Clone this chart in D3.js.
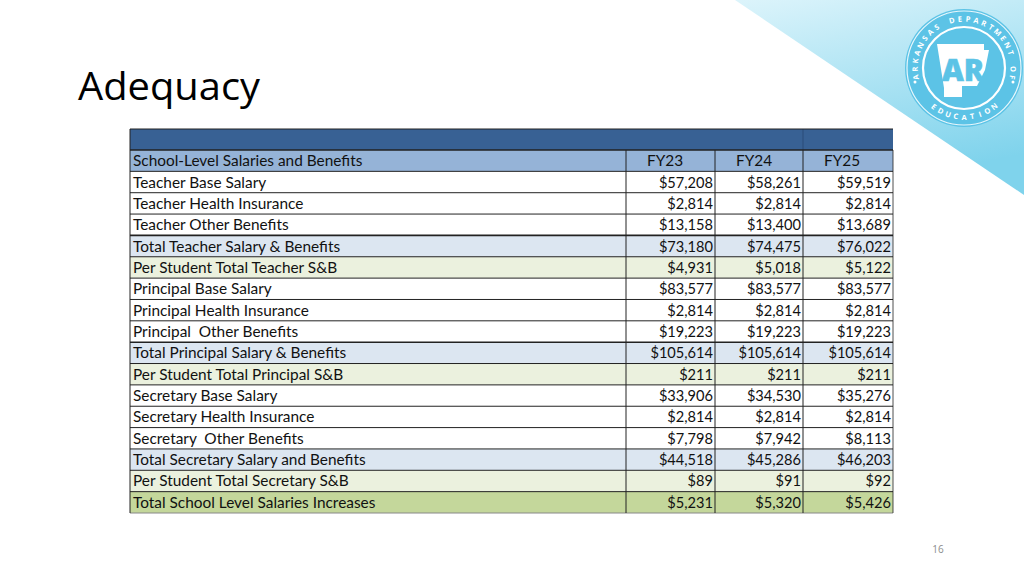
<!DOCTYPE html>
<html><head><meta charset="utf-8">
<script src="https://cdn.jsdelivr.net/npm/d3@7"></script>
<style>body{margin:0;background:#fff}svg{display:block}text{white-space:pre}</style>
</head><body>
<svg id="c" width="1024" height="576"></svg>
<script>
const title = "Adequacy";
const headerLabel = "School-Level Salaries and Benefits";
const years = ["FY23", "FY24", "FY25"];
const labels = [
  "Teacher Base Salary","Teacher Health Insurance","Teacher Other Benefits",
  "Total Teacher Salary & Benefits","Per Student Total Teacher S&B",
  "Principal Base Salary","Principal Health Insurance","Principal  Other Benefits",
  "Total Principal Salary & Benefits","Per Student Total Principal S&B",
  "Secretary Base Salary","Secretary Health Insurance","Secretary  Other Benefits",
  "Total Secretary Salary and Benefits","Per Student Total Secretary S&B",
  "Total School Level Salaries Increases"
];
const rowKinds = ["item","item","item","total","per","item","item","item","total","per","item","item","item","total","per","grand"];
const fy23 = [57208,2814,13158,73180,4931,83577,2814,19223,105614,211,33906,2814,7798,44518,89,5231];
const fy24 = [58261,2814,13400,74475,5018,83577,2814,19223,105614,211,34530,2814,7942,45286,91,5320];
const fy25 = [59519,2814,13689,76022,5122,83577,2814,19223,105614,211,35276,2814,8113,46203,92,5426];
const logoTop = "ARKANSAS DEPARTMENT OF";
const logoBottom = "EDUCATION";
const logoCenter = "AR";
const pageNumber = "16";

const svg = d3.select("#c");
const defs = svg.append("defs");

// decorative triangle
const g1 = defs.append("linearGradient").attr("id","tri").attr("x1","0").attr("y1","0").attr("x2","0.3").attr("y2","1");
g1.append("stop").attr("offset","0").attr("stop-color","#dcf4fb");
g1.append("stop").attr("offset","1").attr("stop-color","#7fd3ec");
svg.append("path").attr("d","M735,0 L1024,0 L1024,195 Z").attr("fill","url(#tri)");

// logo
const R = 59;
const lg = svg.append("g").attr("transform","translate(964,68)");
lg.append("circle").attr("r",R).attr("fill","#5cc3e6");
lg.append("circle").attr("r",R-2).attr("fill","none").attr("stroke","#ffffff").attr("stroke-width",1.2).attr("opacity",0.85);
lg.append("circle").attr("r",41).attr("fill","none").attr("stroke","#ffffff").attr("stroke-width",2.2);
function arcText(str, radius, startDeg, stepDeg, inward){
  str.split("").forEach((ch,k)=>{
    const deg = startDeg + k*stepDeg;
    const a = deg * Math.PI/180;
    const x = radius*Math.sin(a), yv = -radius*Math.cos(a);
    const rot = inward ? deg : deg + 180;
    lg.append("text").attr("transform",`translate(${x.toFixed(2)},${yv.toFixed(2)}) rotate(${rot.toFixed(2)})`)
      .attr("text-anchor","middle").attr("dy","0.35em")
      .attr("font-family","Open Sans").attr("font-weight",700).attr("font-size",7.5).attr("fill","#fff").text(ch);
  });
}
const topStep = 9.6;
arcText(logoTop, 49, -((logoTop.length-1)*topStep)/2, topStep, true);
const botStep = -9.5;
arcText(logoBottom, 49, 180 - ((logoBottom.length-1)*botStep)/2, botStep, false);
lg.append("circle").attr("cx",-49).attr("cy",14).attr("r",1.5).attr("fill","#fff");
lg.append("circle").attr("cx",49).attr("cy",14).attr("r",1.5).attr("fill","#fff");
// state shape
lg.append("path").attr("d","M-27,-24 L20,-24 L20,-18 L25,-18 L23,-8 L21,2 L17,10 L13,18 L-2,18 L-2,29 L-20,29 L-20,20 Z").attr("fill","#fff");
lg.append("text").attr("x",-1).attr("y",13).attr("text-anchor","middle").attr("font-family","Open Sans").attr("font-weight",800)
  .attr("font-size",30).attr("fill","#5cc3e6").attr("stroke","#5cc3e6").attr("stroke-width",0.6).text(logoCenter);

// title
svg.append("text").attr("x",78).attr("y",100).attr("font-family","Open Sans").attr("font-size",38)
  .attr("fill","#000").attr("textLength",182).attr("lengthAdjust","spacingAndGlyphs").text(title);

// table
const left = 130, right = 893;
const colEdges = d3.scaleOrdinal().domain(["label","FY23","FY24","FY25","end"]).range([left,626,715,803,right]);
const nRows = labels.length + 1;
const y = d3.scaleBand().domain(d3.range(nRows)).range([150,513]).paddingInner(0).paddingOuter(0);
const rh = y.bandwidth();
const fill = {header:"#95b3d7", item:"#ffffff", total:"#dce6f1", per:"#ebf1de", grand:"#c4d79b"};
const fmt = d3.format("$,");
const font = "Lato";
const fsL = 15.4, fsN = 14.6;

const T = svg.append("g");
T.append("rect").attr("x",left).attr("y",129).attr("width",right-left).attr("height",150-129).attr("fill","#386194");
T.append("line").attr("x1",803).attr("x2",803).attr("y1",129).attr("y2",150).attr("stroke","#2b4c78").attr("stroke-width",1);

const rows = [{label:headerLabel, kind:"header", vals:years}].concat(
  labels.map((l,i)=>({label:l, kind:rowKinds[i], vals:[fy23[i],fy24[i],fy25[i]].map(fmt)})));

rows.forEach((r,i)=>{
  const yy = y(i);
  T.append("rect").attr("x",left).attr("y",yy).attr("width",right-left).attr("height",rh).attr("fill",fill[r.kind]);
  T.append("text").attr("x",left+3).attr("y",yy+rh/2+5.5).attr("font-family",font).attr("font-size",fsL).attr("fill","#111").text(r.label);
  years.forEach((yr,j)=>{
    const x0 = colEdges(yr), x1 = colEdges(years[j+1]||"end");
    if(r.kind==="header"){
      T.append("text").attr("x",x0+21).attr("y",yy+rh/2+5.5).attr("font-family",font).attr("font-size",fsL).attr("fill","#111").text(r.vals[j]);
    } else {
      T.append("text").attr("x",x1-2).attr("y",yy+rh/2+5.5).attr("text-anchor","end").attr("font-family",font).attr("font-size",fsN).attr("fill","#111").text(r.vals[j]);
    }
  });
});
// horizontal lines
d3.range(nRows+1).forEach(i=>{
  const yy = i<nRows ? y(i) : y(nRows-1)+rh;
  const thick = (i===4 || i===9 || i===0) ? 1.6 : 1;
  T.append("line").attr("x1",left).attr("x2",right).attr("y1",yy).attr("y2",yy).attr("stroke", i===nRows?"#888":"#222").attr("stroke-width",thick);
});
// vertical lines
["label","FY23","FY24","FY25","end"].forEach(k=>{
  T.append("line").attr("x1",colEdges(k)).attr("x2",colEdges(k)).attr("y1",150).attr("y2",513).attr("stroke","#222").attr("stroke-width",k==="end"?0.8:1);
});
T.append("line").attr("x1",left).attr("x2",left).attr("y1",129).attr("y2",150).attr("stroke","#222");
T.append("line").attr("x1",left).attr("x2",right).attr("y1",129).attr("y2",129).attr("stroke","#222");

svg.append("text").attr("x",938).attr("y",553).attr("text-anchor","middle").attr("font-family","Open Sans").attr("font-size",10).attr("fill","#8c8c8c").text(pageNumber);
</script>
</body></html>
